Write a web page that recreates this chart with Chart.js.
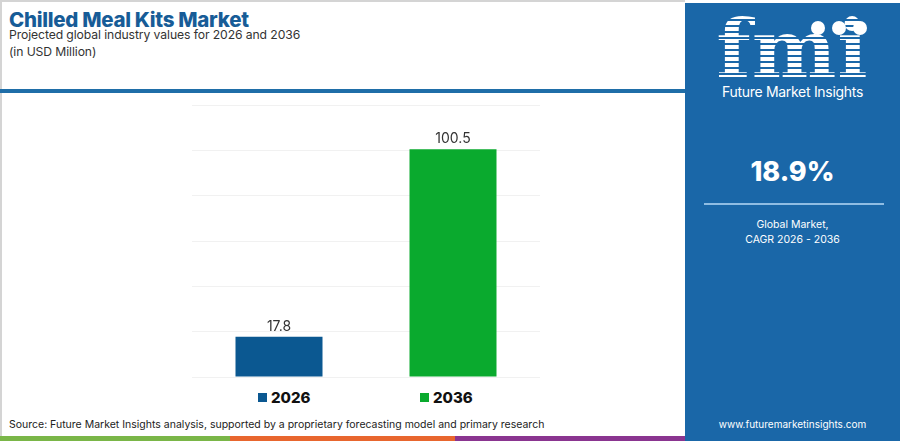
<!DOCTYPE html>
<html>
<head>
<meta charset="utf-8">
<script src="https://cdn.jsdelivr.net/npm/chart.js@4/dist/chart.umd.min.js"></script>
<style>
    html, body { margin: 0; padding: 0; background: #fff; }
    body { width: 900px; height: 441px; position: relative; overflow: hidden; font-family: 'Inter', 'Open Sans', sans-serif; }
    .frame { position: absolute; left: 0; top: 0; width: 685px; height: 436px; border-top: 2px solid #d4d4d4; border-left: 2px solid #d4d4d4; box-sizing: border-box; }
    .title { position: absolute; left: 9px; top: 7px; font-size: 20.5px; font-weight: 800; color: #175c97; letter-spacing: -0.3px; }
    .subtitle { position: absolute; left: 9px; top: 26px; font-size: 12.2px; color: #333; line-height: 17px; letter-spacing: -0.1px; }
    .header-line { position: absolute; left: 0; top: 89px; width: 685px; height: 4px; background: #1f6ea8; }
    .chart-box { position: absolute; left: 180px; top: 95px; width: 380px; height: 290px; }
    .legend { position: absolute; top: 388px; left: 0; width: 685px; height: 20px; }
    .legend span { position: absolute; font-size: 15px; font-weight: 800; color: #111; display: flex; align-items: center; }
    .legend i { display: inline-block; width: 9px; height: 9px; margin-right: 4px; }
    .source { position: absolute; left: 9px; top: 418px; font-size: 10.5px; color: #222; }
    .strip { position: absolute; top: 436px; height: 5px; }
    .panel { position: absolute; left: 685px; top: 3px; width: 215px; height: 438px; background: #1a67a8; color: #fff; text-align: center; }
    .logo { position: absolute; left: 0; top: 6px; width: 215px; font-family: 'DejaVu Serif', serif; font-weight: 900; font-size: 80px; line-height: 80px;
        background: repeating-linear-gradient(to bottom, #fff 0 4px, #1a67a8 4px 6px); -webkit-background-clip: text; background-clip: text; color: transparent; letter-spacing: 1px; }
    .globes { position: absolute; top: 16px; left: 126px; }
    .globes b { display: inline-block; width: 14px; height: 14px; border-radius: 50%; background: #fff; margin-right: 7px; }
    .brand { position: absolute; top: 80px; width: 215px; font-size: 14px; letter-spacing: -0.3px; }
    .cagr { position: absolute; top: 152px; width: 215px; font-size: 27px; font-weight: 800; }
    .rule { position: absolute; top: 200px; left: 19px; width: 180px; height: 2px; background: #8fbde3; }
    .cagr-text { position: absolute; top: 214px; width: 215px; font-size: 10.5px; line-height: 15px; }
    .url { position: absolute; top: 415px; width: 215px; font-size: 10px; }
</style>
</head>
<body>
<div class="frame"></div>
<div class="title">Chilled Meal Kits Market</div>
<div class="subtitle">Projected global industry values for 2026 and 2036<br>(in USD Million)</div>
<div class="header-line"></div>
<div class="chart-box"><canvas id="chart"></canvas></div>
<div class="legend" id="legend"></div>
<div class="source">Source: Future Market Insights analysis, supported by a proprietary forecasting model and primary research</div>
<div class="strip" style="left:0;width:230px;background:#7ab648"></div>
<div class="strip" style="left:230px;width:225px;background:#e8662e"></div>
<div class="strip" style="left:455px;width:230px;background:#8a3590"></div>
<div class="panel">
    <div class="logo">fmi</div>
    <div class="globes"><b></b><b></b><b></b></div>
    <div class="brand">Future Market Insights</div>
    <div class="cagr">18.9%</div>
    <div class="rule"></div>
    <div class="cagr-text">Global Market,<br>CAGR 2026 - 2036</div>
    <div class="url">www.futuremarketinsights.com</div>
</div>
<script>
const years = ['2026', '2036'];
const values = [17.8, 100.5];
const barColors = ['#0b5891', '#0aaa2e'];
const yTicks = [0, 20, 40, 60, 80, 100, 120];
const legendX = [258, 420];

// one dataset per year so each gets its own legend entry
const datasets = years.map((year, i) => ({
    label: year,
    data: years.map((_, j) => (j === i ? values[i] : null)),
    backgroundColor: barColors[i],
    borderWidth: 0,
    barPercentage: 0.5,
    categoryPercentage: 1,
    skipNull: true
}));

const valueLabels = {
    id: 'valueLabels',
    afterDatasetsDraw(chart) {
        const { ctx } = chart;
        ctx.save();
        ctx.font = '14px Inter, "Open Sans", sans-serif';
        ctx.fillStyle = '#333';
        ctx.textAlign = 'center';
        ctx.textBaseline = 'bottom';
        chart.data.datasets.forEach((ds, i) => {
            chart.getDatasetMeta(i).data.forEach((bar, j) => {
                if (ds.data[j] == null) return;
                ctx.fillText(ds.data[j].toFixed(1), bar.x, bar.y - 3);
            });
        });
        ctx.restore();
    }
};

new Chart(document.getElementById('chart'), {
    type: 'bar',
    data: { labels: years, datasets },
    options: {
        responsive: true,
        maintainAspectRatio: false,
        animation: false,
        layout: { padding: { left: 12, right: 20, top: 10, bottom: 8 } },
        scales: {
            x: { display: false, grid: { display: false } },
            y: {
                min: yTicks[0],
                max: yTicks[yTicks.length - 1],
                afterBuildTicks: (axis) => { axis.ticks = yTicks.map((v) => ({ value: v })); },
                ticks: { display: false },
                border: { display: false },
                grid: { color: '#f1f1f1', lineWidth: 1, drawTicks: false }
            }
        },
        plugins: {
            legend: { display: false },
            tooltip: { enabled: false }
        }
    },
    plugins: [valueLabels]
});

const legend = document.getElementById('legend');
years.forEach((year, i) => {
    const item = document.createElement('span');
    item.style.left = legendX[i] + 'px';
    item.innerHTML = `<i style="background:${barColors[i]}"></i>${year}`;
    legend.appendChild(item);
});
</script>
</body>
</html>
